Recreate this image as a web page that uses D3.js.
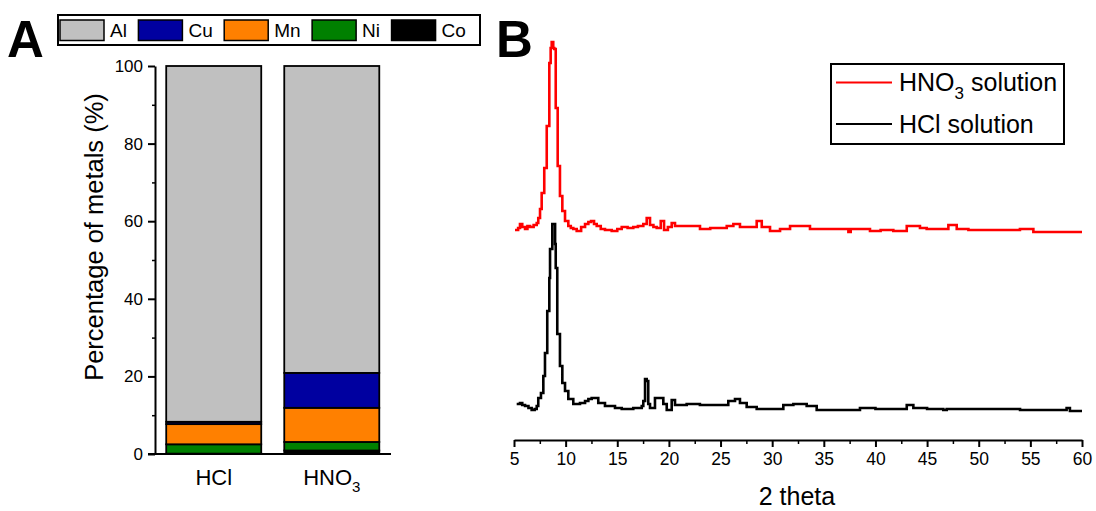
<!DOCTYPE html>
<html><head><meta charset="utf-8">
<script src="https://cdn.jsdelivr.net/npm/d3@7"></script>
<style>
body{margin:0;background:#fff}
svg{display:block}
text{font-family:"Liberation Sans",Arial,Helvetica,sans-serif;fill:#000}
</style>
</head><body>
<svg id="chart" width="1096" height="511"></svg>
<script>
// ---------- Panel A data ----------
const categories = ["HCl", "HNO3"];
const stackOrder = ["Co", "Ni", "Mn", "Cu", "Al"];
const legendMetals = ["Al", "Cu", "Mn", "Ni", "Co"];
const coValues = [0.1, 0.9];
const niValues = [2.4, 2.2];
const mnValues = [5.2, 8.8];
const cuValues = [0.6, 9.0];
const alValues = [91.7, 79.1];
const yTicksA = [0, 20, 40, 60, 80, 100];
const yMinorTicksA = [10, 30, 50, 70, 90];

// ---------- Panel B data (2 theta, intensity a.u.) ----------
const xTicksB = [5, 10, 15, 20, 25, 30, 35, 40, 45, 50, 55, 60];
const xMinorTicksB = [7.5, 12.5, 17.5, 22.5, 27.5, 32.5, 37.5, 42.5, 47.5, 52.5, 57.5];
const seriesNames = ["HNO3 solution", "HCl solution"];
const hno3Pattern = [
  [5.10,210],[5.40,212],[5.58,216],[5.80,213],[6.07,211],[6.30,214],[6.55,213],[6.90,215],[7.20,217],[7.35,222],
  [7.52,231],[7.68,247],[7.93,272],[8.17,314],[8.42,377],[8.55,392],[8.65,398],[8.80,392],[8.90,391],[9.04,332],
  [9.23,274],[9.45,244],[9.68,229],[9.94,219],[10.26,214],[10.50,212],[10.74,211],[11.07,209],[11.50,213],[11.88,216],
  [12.20,218],[12.46,219],[12.75,216],[13.01,214],[13.40,211],[13.81,210],[14.46,209],[15.00,211],[15.43,213],[16.00,212],
  [16.55,213],[17.00,214],[17.52,216],[17.85,222],[18.17,215],[18.50,213],[18.82,212],[19.21,219],[19.53,210],[19.90,213],
  [20.27,217],[20.59,214],[21.50,214],[22.69,214],[23.01,211],[24.00,212],[24.95,212],[25.60,214],[26.24,216],[26.88,213],
  [28.17,213],[28.50,219],[28.99,213],[29.79,209],[30.76,211],[31.73,214],[32.69,214],[33.34,214],[33.66,211],[35.50,211],
  [37.22,211],[37.38,208],[37.60,211],[38.50,211],[39.47,209],[40.50,210],[41.73,209],[43.03,214],[44.31,212],[44.96,211],
  [46.00,211],[47.06,215],[47.87,211],[49.00,210],[50.77,210],[52.50,210],[53.99,211],[55.29,208],[60.00,208]
];
const hclPattern = [
  [5.26,36],[5.58,37],[5.80,35],[6.07,34],[6.40,32],[6.71,30],[7.00,31],[7.20,34],[7.35,42],[7.61,47],
  [7.84,64],[8.00,87],[8.22,129],[8.42,162],[8.49,191],[8.71,216],[8.97,216],[8.98,196],[9.04,172],[9.19,106],
  [9.45,74],[9.68,57],[9.94,49],[10.26,41],[10.74,36],[11.39,37],[11.88,39],[12.20,41],[12.52,42],[13.16,37],
  [13.81,34],[14.78,32],[15.43,31],[16.55,32],[17.37,34],[17.52,39],[17.69,61],[17.85,59],[18.00,36],[18.17,32],
  [18.65,42],[19.14,42],[19.46,36],[19.79,30],[20.27,40],[20.59,35],[21.72,36],[23.00,35],[24.63,35],[25.75,39],
  [26.40,41],[26.88,37],[27.53,33],[28.50,31],[30.11,31],[31.08,35],[32.05,36],[33.34,34],[34.31,30],[36.00,30],
  [37.86,30],[38.50,32],[40.00,31],[41.09,31],[43.03,35],[43.67,32],[45.00,31],[46.57,30],[46.90,31],[48.50,31],
  [50.12,31],[52.00,31],[53.68,31],[54.00,30],[56.00,30],[58.19,30],[58.51,32],[58.83,29],[60.00,29]
];

const metalColor = {Al:"#c0c0c0", Cu:"#0000a0", Mn:"#ff8000", Ni:"#008000", Co:"#000000"};
const lineColor = ["#ff0000", "#000000"];

const svg = d3.select("#chart");

// ---------- Panel labels ----------
svg.append("text").attr("x", 7).attr("y", 57).attr("font-size", 51).attr("font-weight", "bold").text("A");
svg.append("text").attr("x", 496).attr("y", 57).attr("font-size", 51).attr("font-weight", "bold").text("B");

// ---------- Panel A ----------
const yA = d3.scaleLinear().domain([0, 100]).range([454, 66]);
const xA = d3.scaleBand().domain(categories).range([155, 390.5]).paddingInner(0.195).paddingOuter(0.095);

const rows = categories.map((c, i) => ({cat: c, Co: coValues[i], Ni: niValues[i], Mn: mnValues[i], Cu: cuValues[i], Al: alValues[i]}));
const stacked = d3.stack().keys(stackOrder)(rows);

const gA = svg.append("g");
gA.selectAll("g.layer").data(stacked).join("g")
  .attr("class", "layer")
  .attr("fill", d => metalColor[d.key])
  .selectAll("rect").data(d => d).join("rect")
  .attr("x", d => xA(d.data.cat))
  .attr("y", d => yA(d[1]))
  .attr("width", xA.bandwidth())
  .attr("height", d => yA(d[0]) - yA(d[1]))
  .attr("stroke", "#000").attr("stroke-width", 1.8);

const axA = gA.append("g").attr("transform", "translate(155,0)")
  .call(d3.axisLeft(yA).tickValues(yTicksA).tickSize(7).tickSizeOuter(0).tickPadding(5));
axA.select(".domain").attr("stroke-width", 2);
axA.selectAll(".tick line").attr("stroke-width", 2);
axA.selectAll(".tick text").attr("font-size", 17).attr("font-family", "'Liberation Sans',Arial,sans-serif");
const axAm = gA.append("g").attr("transform", "translate(155,0)")
  .call(d3.axisLeft(yA).tickValues(yMinorTicksA).tickSize(3).tickFormat(""));
axAm.select(".domain").remove();
axAm.selectAll(".tick line").attr("stroke-width", 1.5);

gA.append("line").attr("x1", 148).attr("x2", 391).attr("y1", yA(0)).attr("y2", yA(0))
  .attr("stroke", "#000").attr("stroke-width", 2.2);

// category labels
const catLbl = gA.selectAll("text.cat").data(categories).join("text")
  .attr("class", "cat")
  .attr("x", d => xA(d) + xA.bandwidth() / 2)
  .attr("y", 485)
  .attr("font-size", 22)
  .attr("text-anchor", "middle");
catLbl.each(function(d) {
  const t = d3.select(this);
  const m = d.match(/^(.*?)(\d+)$/);
  if (m) {
    t.append("tspan").text(m[1]);
    t.append("tspan").attr("font-size", 15).attr("dy", 7).text(m[2]);
  } else {
    t.text(d);
  }
});

// y label
svg.append("text")
  .attr("transform", "translate(103,237) rotate(-90)")
  .attr("text-anchor", "middle")
  .attr("font-size", 25.5)
  .text("Percentage of metals (%)");

// legend A
const legA = svg.append("g");
legA.append("rect").attr("x", 58).attr("y", 15).attr("width", 422).attr("height", 30)
  .attr("fill", "#fff").attr("stroke", "#000").attr("stroke-width", 2);
let lx = 60;
legendMetals.forEach(m => {
  legA.append("rect").attr("x", lx).attr("y", 20).attr("width", 44).attr("height", 20.5)
    .attr("fill", metalColor[m]).attr("stroke", "#000").attr("stroke-width", 1.5);
  const t = legA.append("text").attr("x", lx + 50).attr("y", 36.5).attr("font-size", 19).text(m);
  lx = lx + 50 + t.node().getComputedTextLength() + 11.5;
});

// ---------- Panel B ----------
const xB = d3.scaleLinear().domain([5, 60]).range([514, 1082]);
const yB = d3.scaleLinear().domain([0, 400]).range([440, 40]);
const gB = svg.append("g");

const axB = gB.append("g").attr("transform", "translate(0,440)")
  .call(d3.axisBottom(xB).tickValues(xTicksB).tickSize(7).tickSizeOuter(0).tickPadding(6).tickFormat(d3.format("d")));
axB.select(".domain").attr("stroke-width", 2);
axB.selectAll(".tick line").attr("stroke-width", 2);
axB.selectAll(".tick text").attr("font-size", 17.5).attr("font-family", "'Liberation Sans',Arial,sans-serif");
const axBm = gB.append("g").attr("transform", "translate(0,440)")
  .call(d3.axisBottom(xB).tickValues(xMinorTicksB).tickSize(4).tickFormat(""));
axBm.select(".domain").remove();
axBm.selectAll(".tick line").attr("stroke-width", 1.5);

svg.append("text").attr("x", 797).attr("y", 505).attr("text-anchor", "middle").attr("font-size", 25).text("2 theta");

const line = d3.line().x(d => xB(d[0])).y(d => yB(d[1])).curve(d3.curveStepAfter);
[hno3Pattern, hclPattern].forEach((data, i) => {
  gB.append("path").datum(data).attr("d", line)
    .attr("fill", "none").attr("stroke", lineColor[i]).attr("stroke-width", 2.6)
    .attr("stroke-linejoin", "miter");
});

// legend B
const legB = svg.append("g");
legB.append("rect").attr("x", 831).attr("y", 64).attr("width", 233).attr("height", 80)
  .attr("fill", "#fff").attr("stroke", "#000").attr("stroke-width", 2);
seriesNames.forEach((name, i) => {
  const yy = 82.5 + i * 41.5;
  legB.append("line").attr("x1", 836).attr("x2", 892).attr("y1", yy).attr("y2", yy)
    .attr("stroke", lineColor[i]).attr("stroke-width", 2.2);
  const t = legB.append("text").attr("x", 899).attr("y", yy + 8.5).attr("font-size", 25);
  const m = name.match(/^([A-Za-z]+?)(\d+)(.*)$/);
  if (m) {
    t.append("tspan").text(m[1]);
    t.append("tspan").attr("font-size", 17).attr("dy", 8).text(m[2]);
    t.append("tspan").attr("dy", -8).text(m[3]);
  } else {
    t.text(name);
  }
});
</script>
</body></html>
